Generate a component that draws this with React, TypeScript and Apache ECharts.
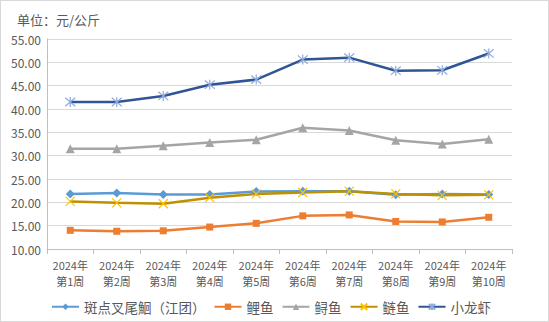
import React, { useEffect, useRef } from "react";
import * as echarts from "echarts";

const categories = ["2024年\n第1周", "2024年\n第2周", "2024年\n第3周", "2024年\n第4周", "2024年\n第5周", "2024年\n第6周", "2024年\n第7周", "2024年\n第8周", "2024年\n第9周", "2024年\n第10周"];
const catfish = [21.8, 22.0, 21.7, 21.7, 22.3, 22.4, 22.4, 21.6, 21.8, 21.7];
const carp = [14.0, 13.8, 13.9, 14.7, 15.5, 17.1, 17.3, 15.9, 15.8, 16.8];
const sturgeon = [31.5, 31.5, 32.1, 32.8, 33.4, 36.0, 35.4, 33.3, 32.5, 33.5];
const silverCarp = [20.2, 19.9, 19.7, 21.0, 21.8, 22.1, 22.4, 21.8, 21.5, 21.6];
const crayfish = [41.5, 41.5, 42.8, 45.2, 46.3, 50.6, 51.0, 48.2, 48.3, 51.9];
const seriesNames = ["斑点叉尾鮰（江团）", "鲤鱼", "鲟鱼", "鲢鱼", "小龙虾"];

const FONT = "'Noto Sans CJK SC', sans-serif";
const xSym = "path://M0,0 L10,10 M10,0 L0,10";
const starSym = "path://M0,0 L10,10 M10,0 L0,10 M5,-1 L5,11";

export default function App() {
  const ref = useRef<HTMLDivElement>(null);
  useEffect(() => {
    const chart = echarts.init(ref.current!, null, { renderer: "svg" });
    const mk = (name: string, data: number[], line: string, mcolor: string, symbol: string, size: number, stroke: boolean) => ({
      name,
      type: "line",
      data,
      symbol,
      symbolSize: size,
      showAllSymbol: true,
      lineStyle: { color: line, width: 2.5 },
      itemStyle: stroke
        ? { color: "rgba(0,0,0,0)", borderColor: mcolor, borderWidth: 1.2 }
        : { color: mcolor, borderColor: mcolor, borderWidth: 0 },
      emphasis: { disabled: true },
    });
    chart.setOption({
      animation: false,
      title: {
        text: "单位：元/公斤",
        left: 11,
        top: 7,
        textStyle: { fontFamily: FONT, fontSize: 13, fontWeight: "normal", color: "#595959" },
      },
      grid: { left: 46, right: 36, top: 38, bottom: 72 },
      legend: {
        left: 45,
        top: 294,
        itemWidth: 27,
        itemHeight: 8,
        itemGap: 8,
        textStyle: { fontFamily: FONT, fontSize: 13.5, color: "#595959" },
        data: seriesNames,
      },
      xAxis: {
        type: "category",
        data: categories,
        boundaryGap: true,
        axisLine: { lineStyle: { color: "#bfbfbf" } },
        axisTick: { show: true, length: 5, lineStyle: { color: "#bfbfbf" } },
        axisLabel: { fontFamily: FONT, fontSize: 11, color: "#595959", lineHeight: 16, margin: 8, interval: 0 },
      },
      yAxis: {
        type: "value",
        min: 10,
        max: 55,
        interval: 5,
        axisLine: { show: true, lineStyle: { color: "#bfbfbf" } },
        axisTick: { show: false },
        splitLine: { lineStyle: { color: "#d9d9d9" } },
        axisLabel: { fontFamily: FONT, fontSize: 12, color: "#595959", formatter: (v: number) => v.toFixed(2), margin: 6 },
      },
      series: [
        mk(seriesNames[0], catfish, "#5B9BD5", "#5B9BD5", "diamond", 9, false),
        mk(seriesNames[1], carp, "#ED7D31", "#ED7D31", "rect", 7, false),
        mk(seriesNames[2], sturgeon, "#A5A5A5", "#A5A5A5", "triangle", 9, false),
        mk(seriesNames[3], silverCarp, "#BF9000", "#FFC000", xSym, 9, true),
        mk(seriesNames[4], crayfish, "#2F5597", "#8FAADC", starSym, 10, true),
      ],
    });
    return () => chart.dispose();
  }, []);
  return (
    <div
      ref={ref}
      style={{ width: 547, height: 320, border: "1px solid #d9d9d9", boxSizing: "content-box", position: "absolute", left: 0, top: 0 }}
    />
  );
}
